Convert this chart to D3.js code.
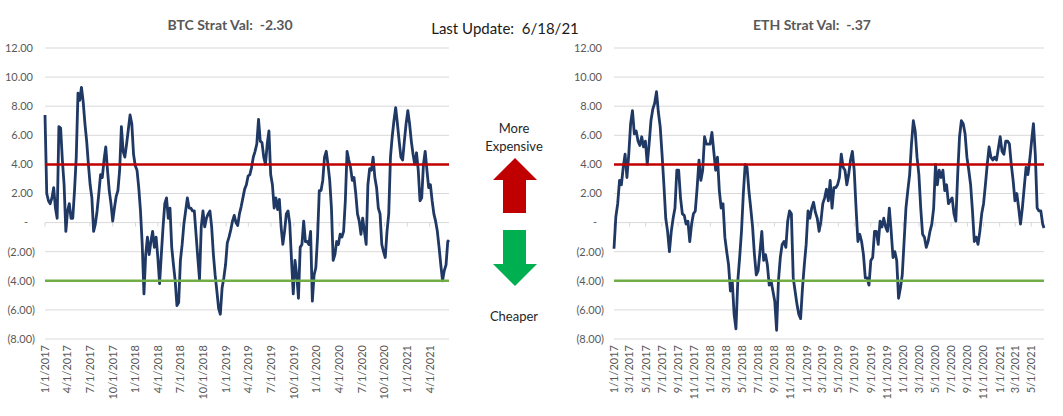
<!DOCTYPE html>
<html>
<head>
<meta charset="utf-8">
<script src="https://cdn.jsdelivr.net/npm/d3@7"></script>
<style>
  html, body { margin: 0; padding: 0; background: #ffffff; }
  svg { display: block; }
  text { font-family: Lato, "Open Sans", sans-serif; white-space: pre; }
</style>
</head>
<body>
<svg id="chart" width="1063" height="416"></svg>
<script>
// ---------------- DATA ----------------
const startDate = "2017-01-01";
const endDate = "2021-06-18";
const stepDays = 7; // weekly readings

const btcValues = [
  7.4, 2.0, 1.5, 1.3, 1.7, 2.4, 1.0, 0.3, 6.6, 6.5, 4.3, 2.6, -0.6, 0.8, 1.3, 0.3, 0.3, 2.2, 4.5, 8.9,
  8.4, 9.3, 8.3, 6.8, 5.6, 4.0, 2.6, 1.7, -0.6, -0.1, 0.8, 2.0, 3.3, 3.1, 4.3, 5.2, 3.6, 2.2, 1.3, 0.1,
  1.0, 1.8, 2.2, 3.6, 6.6, 4.9, 4.5, 5.4, 6.4, 7.4, 6.8, 4.7, 3.9, 3.6, 2.4, 0.8, -1.5, -4.9, -2.2, -1.0,
  -2.2, -1.3, -0.6, -1.7, -1.0, -2.4, -4.2, -2.2, -0.3, 1.3, 1.7, 0.3, 1.0, -1.7, -2.9, -4.0, -5.7, -5.5, -2.6, -1.5,
  -0.1, 0.8, 1.7, 1.0, 1.0, 0.8, 0.8, -0.8, -2.4, -3.9, -0.3, 0.8, -0.3, 0.3, 0.6, 0.8, -0.3, -2.2, -3.6, -4.7,
  -5.9, -6.3, -4.5, -3.8, -2.9, -1.4, -1.0, -0.5, 0.1, 0.5, 0.0, -0.2, 0.6, 1.1, 1.7, 2.3, 2.6, 3.2, 3.3, 3.8,
  4.5, 4.9, 5.4, 7.1, 5.6, 5.5, 4.5, 4.0, 5.4, 6.3, 3.3, 2.6, 1.0, 1.7, 0.9, 1.6, -0.3, -1.5, -0.6, 0.6,
  0.8, -0.1, -2.6, -4.9, -2.6, -3.6, -5.2, -1.7, -1.5, 0.1, -1.3, -1.3, -1.5, -0.6, -5.4, -3.6, -3.1, -1.0, 2.2, 2.2,
  2.9, 4.5, 4.9, 4.0, 2.9, 1.0, -2.6, -2.2, -1.3, -1.5, -0.8, -1.0, -0.6, 1.5, 4.9, 4.3, 3.8, 2.9, 3.1, 2.0,
  0.6, 0.1, -0.8, 0.3, -0.6, -1.5, 2.6, 3.7, 3.6, 4.5, 3.1, 2.4, 1.0, 0.6, -1.5, -2.0, -2.4, -0.6, 0.6, 4.5,
  5.9, 7.0, 7.9, 6.8, 5.6, 4.5, 4.3, 5.6, 6.8, 7.7, 6.8, 5.6, 4.7, 4.0, 4.8, 3.6, 1.5, 1.7, 4.0, 4.9,
  3.6, 2.4, 2.6, 1.5, 0.6, 0.1, -0.6, -1.7, -2.9, -4.0, -3.3, -2.9, -1.3, -1.2
];

const ethValues = [
  -1.8, 0.4, 1.3, 2.9, 2.6, 3.8, 4.7, 3.1, 4.7, 6.8, 7.7, 6.1, 6.3, 5.6, 5.3, 5.9, 5.2, 5.6, 4.0, 5.4,
  7.0, 7.8, 8.2, 9.0, 7.6, 6.6, 4.7, 2.6, 0.3, -0.6, -2.0, -0.6, 0.3, 1.0, 3.6, 3.6, 1.7, 0.6, 0.5, -0.1,
  0.1, -1.3, -0.1, 0.6, 0.8, 2.4, 4.3, 2.9, 3.6, 5.9, 5.4, 5.4, 5.4, 6.2, 4.9, 3.6, 4.5, 2.2, 1.0, 1.3,
  -1.0, -2.0, -2.9, -4.7, -4.0, -6.3, -7.3, -4.0, -2.4, -0.6, 2.0, 4.0, 3.8, 2.2, 1.0, -0.3, -2.2, -3.6, -3.3, -2.0,
  -0.6, -2.6, -2.2, -2.9, -4.3, -4.0, -4.7, -5.4, -7.4, -4.0, -2.4, -1.5, -1.3, -1.7, 0.1, 0.8, 0.6, -3.8, -4.7, -5.6,
  -6.3, -6.6, -4.5, -2.9, -1.5, 0.8, 0.3, 1.0, 1.4, 0.7, 0.3, -0.6, 0.1, 1.3, 1.7, 2.3, 1.5, 2.9, 1.0, 2.4,
  2.4, 2.6, 3.1, 4.7, 3.8, 3.6, 2.6, 3.3, 4.3, 4.9, 3.6, 1.0, -1.3, -0.8, -1.3, -2.2, -3.8, -3.8, -4.3, -2.6,
  -2.4, -0.6, -0.6, -1.5, 0.1, -0.3, 0.3, -0.3, -0.6, 1.0, -0.6, -2.4, -2.0, -2.6, -5.2, -4.5, -3.6, -1.3, 1.0, 2.2,
  3.3, 5.4, 7.0, 6.3, 4.5, 3.3, 1.0, -0.8, -1.0, -1.7, -1.3, -0.6, -0.1, 1.0, 4.0, 2.6, 3.6, 3.1, 3.6, 2.2,
  2.6, 1.3, 1.5, 1.7, 0.6, 0.1, 3.3, 5.9, 7.0, 6.8, 6.1, 4.5, 3.6, 2.6, 0.8, -1.3, -1.0, -1.5, -0.6, 0.6,
  1.3, 2.6, 4.0, 5.2, 4.5, 4.3, 4.5, 4.3, 5.1, 5.9, 4.9, 4.7, 5.6, 5.6, 5.4, 4.0, 2.9, 1.5, 2.0, 1.0,
  -0.1, 1.0, 2.4, 3.8, 3.3, 4.3, 5.6, 6.8, 4.7, 1.0, 0.8, 0.8, -0.1, -0.37
];

const yTicks = [12, 10, 8, 6, 4, 2, 0, -2, -4, -6, -8];
const expensiveLevel = 4;
const cheapLevel = -4;

const btcTitle = "BTC Strat Val:  -2.30";
const ethTitle = "ETH Strat Val:  -.37";
const updateText = "Last Update:  6/18/21";
const upLabel = ["More", "Expensive"];
const downLabel = "Cheaper";

// ---------------- HELPERS ----------------
const parse = d3.utcParse("%Y-%m-%d");
const t0 = parse(startDate), t1 = parse(endDate);
function buildSeries(values) {
  return values.map((v, i) => {
    let d = d3.utcDay.offset(t0, i * stepDays);
    if (d > t1 || i === values.length - 1) d = t1;
    return { date: d, value: v };
  });
}
const fmtY = v => v === 0 ? "-" : (v < 0 ? "(" + Math.abs(v).toFixed(2) + ")" : v.toFixed(2));
const fmtX = d => (d.getUTCMonth() + 1) + "/" + d.getUTCDate() + "/" + d.getUTCFullYear();

const svg = d3.select("#chart");

const COLORS = {
  grid: "#d9d9d9", label: "#595959", line: "#1f3864",
  red: "#c00000", green: "#70ad47", arrowGreen: "#00b050"
};

function drawPanel(opts) {
  const { values, x0, x1, labelRight, tickInterval, title, titleX } = opts;
  const y = d3.scaleLinear().domain([-8, 12]).range([339, 48]);
  const x = d3.scaleUtc().domain([t0, t1]).range([x0, x1]);
  const g = svg.append("g");

  g.selectAll("line.grid").data(yTicks).join("line")
    .attr("x1", x0).attr("x2", x1)
    .attr("y1", d => y(d)).attr("y2", d => y(d))
    .attr("stroke", COLORS.grid).attr("stroke-width", 1);

  g.selectAll("text.ylab").data(yTicks).join("text")
    .attr("x", d => d === 0 ? labelRight - 5 : (d < 0 ? labelRight + 2 : labelRight))
    .attr("y", d => y(d))
    .attr("dy", "0.35em")
    .attr("text-anchor", "end")
    .attr("font-size", 11)
    .attr("fill", COLORS.label)
    .text(fmtY);

  const ticks = tickInterval.range(t0, d3.utcDay.offset(t1, 1));
  g.selectAll("line.xtick").data(ticks).join("line")
    .attr("x1", d => x(d)).attr("x2", d => x(d))
    .attr("y1", y(0)).attr("y2", y(0) + 4)
    .attr("stroke", COLORS.grid).attr("stroke-width", 1);

  g.selectAll("text.xlab").data(ticks).join("text")
    .attr("transform", d => `translate(${x(d)},${y(-8) + 6}) rotate(-90)`)
    .attr("dy", "0.35em")
    .attr("text-anchor", "end")
    .attr("font-size", 11)
    .attr("fill", COLORS.label)
    .text(fmtX);

  const series = buildSeries(values);
  g.append("path")
    .datum(series)
    .attr("fill", "none")
    .attr("stroke", COLORS.line)
    .attr("stroke-width", 2.8)
    .attr("stroke-linejoin", "round")
    .attr("d", d3.line().x(d => x(d.date)).y(d => y(d.value)));

  g.append("line").attr("x1", x0).attr("x2", x1)
    .attr("y1", y(expensiveLevel)).attr("y2", y(expensiveLevel))
    .attr("stroke", COLORS.red).attr("stroke-width", 2.5);
  g.append("line").attr("x1", x0).attr("x2", x1)
    .attr("y1", y(cheapLevel)).attr("y2", y(cheapLevel))
    .attr("stroke", COLORS.green).attr("stroke-width", 2.5);

  svg.append("text")
    .attr("x", titleX).attr("y", 25).attr("dy", "0.35em")
    .attr("text-anchor", "middle")
    .attr("font-size", 14).attr("font-weight", "bold")
    .attr("fill", COLORS.label)
    .text(title);
}

drawPanel({ values: btcValues, x0: 45, x1: 449, labelRight: 33,
  tickInterval: d3.utcMonth.every(3), title: btcTitle, titleX: 230 });
drawPanel({ values: ethValues, x0: 614, x1: 1044, labelRight: 602,
  tickInterval: d3.utcMonth.every(2), title: ethTitle, titleX: 812 });

svg.append("text").attr("x", 505).attr("y", 29).attr("dy", "0.35em")
  .attr("text-anchor", "middle").attr("font-size", 15).attr("fill", "#1a1a1a")
  .text(updateText);

svg.selectAll("text.up").data(upLabel).join("text")
  .attr("x", 514).attr("y", (d, i) => 128 + i * 18).attr("dy", "0.35em")
  .attr("text-anchor", "middle").attr("font-size", 13).attr("fill", "#262626")
  .text(d => d);
svg.append("text").attr("x", 514).attr("y", 316).attr("dy", "0.35em")
  .attr("text-anchor", "middle").attr("font-size", 13).attr("fill", "#262626")
  .text(downLabel);

const cx = 515;
const upArrow = [[cx, 158], [cx + 22, 180], [cx + 11, 180], [cx + 11, 213], [cx - 12, 213], [cx - 12, 180], [cx - 22, 180]];
const downArrow = [[cx - 12, 230], [cx + 11, 230], [cx + 11, 264], [cx + 22, 264], [cx, 286], [cx - 22, 264], [cx - 12, 264]];
svg.append("path").attr("d", d3.line()(upArrow) + "Z").attr("fill", COLORS.red);
svg.append("path").attr("d", d3.line()(downArrow) + "Z").attr("fill", COLORS.arrowGreen);
</script>
</body>
</html>
